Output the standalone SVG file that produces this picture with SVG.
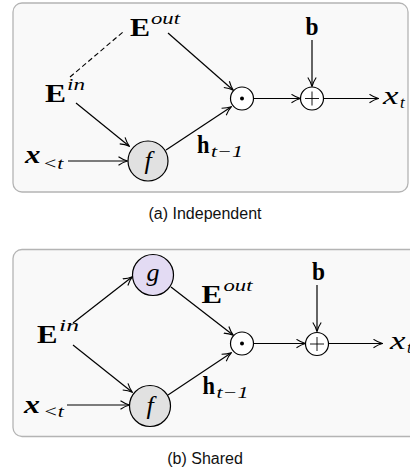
<svg xmlns="http://www.w3.org/2000/svg" width="410" height="473" viewBox="0 0 410 473">
<defs>
<marker id="arr" viewBox="0 0 10 10" refX="9" refY="5" markerWidth="10" markerHeight="10" markerUnits="userSpaceOnUse" orient="auto">
<path d="M0.5,0.8 Q5,3.8 9.5,5 Q5,6.2 0.5,9.2" fill="none" stroke="#000" stroke-width="1.1"/>
</marker>
</defs>
<style>
.panel{fill:#f9f9f9;stroke:#b4b4b4;stroke-width:1.3}
.node{stroke:#000;stroke-width:1.2}
.ln{stroke:#000;stroke-width:1.2;fill:none}
.ar{stroke:#000;stroke-width:1.2;fill:none;marker-end:url(#arr)}
.dash{stroke:#000;stroke-width:1.1;fill:none;stroke-dasharray:5,3}
.bold{font-family:"Liberation Serif",serif;font-weight:bold;font-size:26px}
.it{font-family:"Liberation Serif",serif;font-style:italic;font-size:26px}
.bit{font-family:"Liberation Serif",serif;font-style:italic;font-weight:bold;font-size:26px}
.sm{font-family:"Liberation Serif",serif;font-style:italic;font-size:17px}
.smr{font-family:"Liberation Serif",serif;font-size:17px}
.cap{font-family:"Liberation Sans",Arial,sans-serif;font-size:16px;fill:#111}
</style>
<rect class="panel" x="13" y="3" width="395" height="189" rx="9"/>
<rect class="panel" x="13" y="249.5" width="410" height="187" rx="9"/>

<g id="connectors">
<!-- panel a -->
<path class="dash" d="M70,77 L123,32"/>
<path class="ar" d="M76,103 L129,146"/>
<path class="ar" d="M68,161 L127,161"/>
<path class="ar" d="M166,150 L231,107"/>
<path class="ar" d="M168,33 L233,90"/>
<path class="ar" d="M254,98.5 L300,98.5"/>
<path class="ar" d="M312,40 L312,86"/>
<path class="ar" d="M324,98.5 L378,98.5"/>
<!-- panel b -->
<path class="ar" d="M73,323 L132,277"/>
<path class="ar" d="M73,345 L132,392"/>
<path class="ar" d="M67,405 L129,405"/>
<path class="ar" d="M171,287 L233,335"/>
<path class="ar" d="M168,395 L231,353"/>
<path class="ar" d="M254,343.5 L305,343.5"/>
<path class="ar" d="M317,285 L317,331"/>
<path class="ar" d="M329,343.5 L382,343.5"/>
</g>

<g id="a-Eout"><text x="130" y="36" class="bold" textLength="20" lengthAdjust="spacingAndGlyphs">E</text><text x="151" y="24" class="sm" textLength="29" lengthAdjust="spacingAndGlyphs">out</text></g>
<g id="a-Ein"><text x="45" y="101.5" class="bold" textLength="21" lengthAdjust="spacingAndGlyphs">E</text><text x="67" y="89.5" class="sm" textLength="18" lengthAdjust="spacingAndGlyphs">in</text></g>
<g id="a-x"><text x="25" y="163" class="bit" textLength="15.5" lengthAdjust="spacingAndGlyphs">x</text><text x="42.5" y="168.5" class="sm" textLength="21" lengthAdjust="spacingAndGlyphs">&lt;t</text></g>
<g id="a-f"><circle class="node" cx="148" cy="161" r="20" fill="#e1e1e1"/><text x="148" y="169" class="it" text-anchor="middle">f</text></g>
<g id="a-h"><text x="197" y="152.5" class="bold" textLength="12.5" lengthAdjust="spacingAndGlyphs">h</text><text x="211" y="156.5" class="sm" textLength="32" lengthAdjust="spacingAndGlyphs">t<tspan class="smr">−1</tspan></text></g>
<g id="a-odot"><circle class="node" cx="242" cy="98.5" r="11.5" fill="#fff"/><circle cx="242" cy="98.5" r="2" fill="#000"/></g>
<g id="a-oplus"><circle class="node" cx="312" cy="98.5" r="11.5" fill="#fff"/><path d="M305,98.5 H319 M312,91.5 V105.5" stroke="#000" stroke-width="0.9"/></g>
<g id="a-b"><text x="305.5" y="35" class="bold" textLength="13" lengthAdjust="spacingAndGlyphs">b</text></g>
<g id="a-xt"><text x="383" y="103.5" class="it" textLength="15.5" lengthAdjust="spacingAndGlyphs">x</text><text x="400" y="107.5" class="sm">t</text></g>

<g id="b-Ein"><text x="37" y="343" class="bold" textLength="20.5" lengthAdjust="spacingAndGlyphs">E</text><text x="59" y="331" class="sm" textLength="20" lengthAdjust="spacingAndGlyphs">in</text></g>
<g id="b-g"><circle class="node" cx="153" cy="275" r="20.5" fill="#e3dbf3"/><text x="153" y="281" class="it" text-anchor="middle">g</text></g>
<g id="b-f"><circle class="node" cx="150" cy="406" r="20.5" fill="#e1e1e1"/><text x="150" y="414" class="it" text-anchor="middle">f</text></g>
<g id="b-x"><text x="24" y="413" class="bit" textLength="16" lengthAdjust="spacingAndGlyphs">x</text><text x="43" y="417" class="sm" textLength="21" lengthAdjust="spacingAndGlyphs">&lt;t</text></g>
<g id="b-Eout"><text x="201.5" y="303" class="bold" textLength="20.5" lengthAdjust="spacingAndGlyphs">E</text><text x="223.5" y="291" class="sm" textLength="29" lengthAdjust="spacingAndGlyphs">out</text></g>
<g id="b-h"><text x="202.5" y="393.5" class="bold" textLength="12.5" lengthAdjust="spacingAndGlyphs">h</text><text x="216.5" y="397.5" class="sm" textLength="32" lengthAdjust="spacingAndGlyphs">t<tspan class="smr">−1</tspan></text></g>
<g id="b-odot"><circle class="node" cx="242" cy="343.5" r="11.5" fill="#fff"/><circle cx="242" cy="343.5" r="2" fill="#000"/></g>
<g id="b-oplus"><circle class="node" cx="317" cy="344" r="11.5" fill="#fff"/><path d="M310,344 H324 M317,337 V351" stroke="#000" stroke-width="0.9"/></g>
<g id="b-b"><text x="312" y="280" class="bold" textLength="13" lengthAdjust="spacingAndGlyphs">b</text></g>
<g id="b-xt"><text x="390" y="348.5" class="it" textLength="15.5" lengthAdjust="spacingAndGlyphs">x</text><text x="407" y="352.5" class="sm">t</text></g>

<text class="cap" x="205" y="219" text-anchor="middle">(a) Independent</text>
<text class="cap" x="205" y="464" text-anchor="middle">(b) Shared</text>
</svg>
